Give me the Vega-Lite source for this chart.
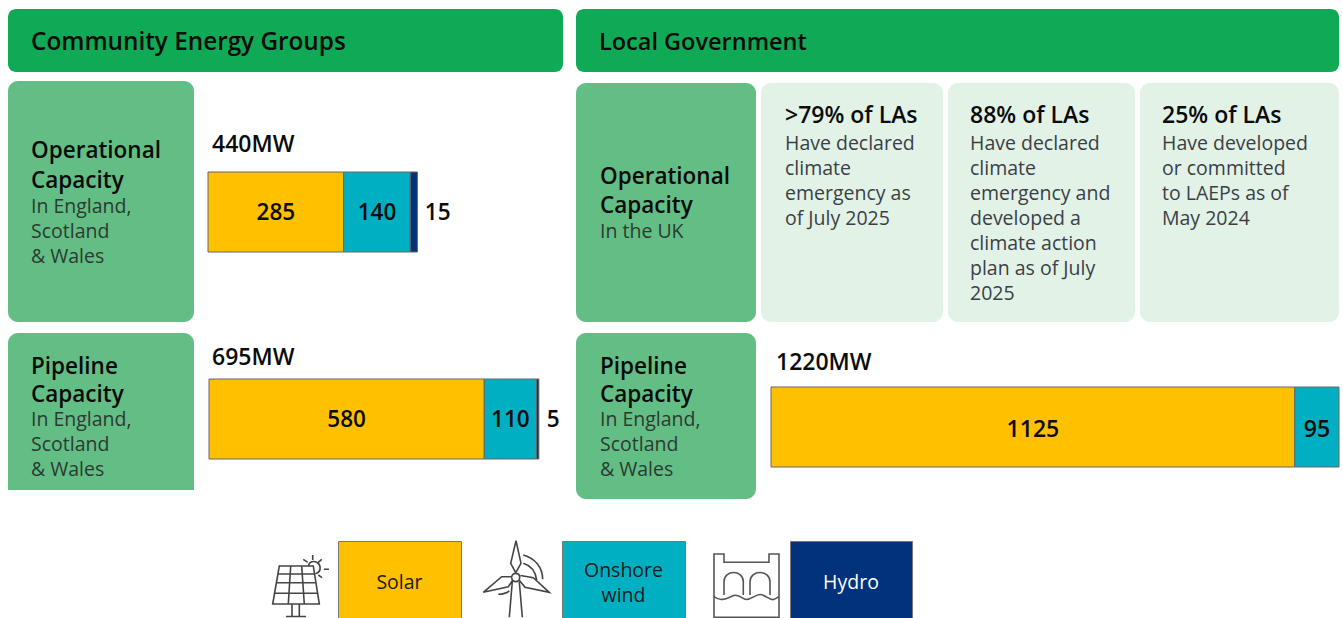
{
"$schema":"https://vega.github.io/schema/vega-lite/v6.json",
"padding":{"left":8,"top":9,"right":0,"bottom":0},
"background":"white",
"spacing":38,
"config":{"view":{"stroke":null},"font":"Open Sans","text":{"font":"Open Sans"}},
"vconcat":[
{"spacing":12,"hconcat":[
 {"spacing":11,"vconcat":[
 {"spacing":9,"vconcat":[
  {"width":555,"height":63,"view":{"fill":"#10A955","cornerRadius":8,"stroke":null},
   "data":{"values":[{"label":"Community Energy Groups"}]},
   "mark":{"type":"text","x":23,"y":41,"align":"left","baseline":"alphabetic","fontSize":24.3,"fontWeight":600,"fill":"#0b0b0b"},
   "encoding":{"text":{"field":"label"}}},
  {"spacing":13,"hconcat":[
   {"width":186,"height":241,"view":{"fill":"#63BE85","cornerRadius":10,"stroke":null},
    "layer":[
     {"data":{"values":[{"label":"Operational\nCapacity"}]},"mark":{"type":"text","lineBreak":"\n","lineHeight":30,"x":23,"y":77,"align":"left","baseline":"alphabetic","fontSize":22.5,"fontWeight":600,"fill":"#0b0b0b"},"encoding":{"text":{"field":"label"}}},
     {"data":{"values":[{"label":"In England,\nScotland\n& Wales"}]},"mark":{"type":"text","lineBreak":"\n","lineHeight":25,"x":23,"y":132,"align":"left","baseline":"alphabetic","fontSize":19.5,"fill":"#2b3a30"},"encoding":{"text":{"field":"label"}}}
    ]},
   {"spacing":0,"vconcat":[
    {"width":356,"height":90,"data":{"values":[{"label":"440MW"}]},
     "mark":{"type":"text","x":4,"y":71,"align":"left","baseline":"alphabetic","fontSize":23,"fontWeight":600,"fill":"#0b0b0b"},"encoding":{"text":{"field":"label"}}},
    {"width":356,"height":80,
     "data":{"values":[{"source":"Solar","rank":1,"mw":285},{"source":"Onshore wind","rank":2,"mw":140},{"source":"Hydro","rank":3,"mw":15}]},
     "layer":[
      {"mark":{"type":"bar","size":80,"stroke":"#666","strokeWidth":1},"encoding":{"x":{"field":"mw","type":"quantitative","stack":"zero","axis":null,"scale":{"domain":[0,748]}},"order":{"field":"rank"},"color":{"field":"source","type":"nominal","legend":null,"scale":{"domain":["Solar","Onshore wind","Hydro"],"range":["#FFC000","#00B0C2","#03327C"]}}}},
      {"mark":{"type":"text","fontSize":22.5,"fontWeight":600,"fill":"#0b0b0b","dy":1},"encoding":{"x":{"field":"mw","type":"quantitative","stack":"zero","bandPosition":0.5,"axis":null,"scale":{"domain":[0,748]}},"order":{"field":"rank"},"text":{"condition":{"test":"datum.mw>=50","field":"mw","type":"quantitative"},"value":""}}},
      {"mark":{"type":"text","fontSize":22.5,"fontWeight":600,"fill":"#0b0b0b","align":"left","dx":11,"dy":1},"encoding":{"x":{"field":"mw","type":"quantitative","stack":"zero","bandPosition":0.5,"axis":null,"scale":{"domain":[0,748]}},"order":{"field":"rank"},"text":{"condition":{"test":"datum.mw<50","field":"mw","type":"quantitative"},"value":""}}}
     ]}
   ]}
  ]}
 ]},
  {"spacing":14,"hconcat":[
   {"width":186,"height":157,
    "layer":[
     {"data":{"values":[{"label":"box"}]},"mark":{"type":"rect","fill":"#63BE85","cornerRadiusTopLeft":10,"cornerRadiusTopRight":10},"encoding":{}},
     {"data":{"values":[{"label":"Pipeline\nCapacity"}]},"mark":{"type":"text","lineBreak":"\n","lineHeight":28,"x":23,"y":41,"align":"left","baseline":"alphabetic","fontSize":22.5,"fontWeight":600,"fill":"#0b0b0b"},"encoding":{"text":{"field":"label"}}},
     {"data":{"values":[{"label":"In England,\nScotland\n& Wales"}]},"mark":{"type":"text","lineBreak":"\n","lineHeight":25,"x":23,"y":93,"align":"left","baseline":"alphabetic","fontSize":19.5,"fill":"#2b3a30"},"encoding":{"text":{"field":"label"}}}
    ]},
   {"spacing":0,"vconcat":[
    {"width":355,"height":45,"data":{"values":[{"label":"695MW"}]},
     "mark":{"type":"text","x":3,"y":32,"align":"left","baseline":"alphabetic","fontSize":23,"fontWeight":600,"fill":"#0b0b0b"},"encoding":{"text":{"field":"label"}}},
    {"width":355,"height":80,
     "data":{"values":[{"source":"Solar","rank":1,"mw":580},{"source":"Onshore wind","rank":2,"mw":110},{"source":"Hydro","rank":3,"mw":5}]},
     "layer":[
      {"mark":{"type":"bar","size":80,"stroke":"#666","strokeWidth":1},"encoding":{"x":{"field":"mw","type":"quantitative","stack":"zero","axis":null,"scale":{"domain":[0,748]}},"order":{"field":"rank"},"color":{"field":"source","type":"nominal","legend":null,"scale":{"domain":["Solar","Onshore wind","Hydro"],"range":["#FFC000","#00B0C2","#03327C"]}}}},
      {"mark":{"type":"text","fontSize":22.5,"fontWeight":600,"fill":"#0b0b0b","dy":1},"encoding":{"x":{"field":"mw","type":"quantitative","stack":"zero","bandPosition":0.5,"axis":null,"scale":{"domain":[0,748]}},"order":{"field":"rank"},"text":{"condition":{"test":"datum.mw>=50","field":"mw","type":"quantitative"},"value":""}}},
      {"mark":{"type":"text","fontSize":22.5,"fontWeight":600,"fill":"#0b0b0b","align":"left","dx":9,"dy":1},"encoding":{"x":{"field":"mw","type":"quantitative","stack":"zero","bandPosition":0.5,"axis":null,"scale":{"domain":[0,748]}},"order":{"field":"rank"},"text":{"condition":{"test":"datum.mw<50","field":"mw","type":"quantitative"},"value":""}}}
     ]}
   ]}
  ]}
 ]},
 {"spacing":11,"vconcat":[
  {"width":763,"height":63,"view":{"fill":"#10A955","cornerRadius":8,"stroke":null},
   "data":{"values":[{"label":"Local Government"}]},
   "mark":{"type":"text","x":23,"y":41,"align":"left","baseline":"alphabetic","fontSize":23.5,"fontWeight":600,"fill":"#0b0b0b"},
   "encoding":{"text":{"field":"label"}}},
  {"spacing":5,"hconcat":[
   {"width":180,"height":239,"view":{"fill":"#63BE85","cornerRadius":10,"stroke":null},
    "layer":[
     {"data":{"values":[{"label":"Operational\nCapacity"}]},"mark":{"type":"text","lineBreak":"\n","lineHeight":29,"x":24,"y":101,"align":"left","baseline":"alphabetic","fontSize":22.5,"fontWeight":600,"fill":"#0b0b0b"},"encoding":{"text":{"field":"label"}}},
     {"data":{"values":[{"label":"In the UK"}]},"mark":{"type":"text","x":24,"y":155,"align":"left","baseline":"alphabetic","fontSize":19.5,"fill":"#2b3a30"},"encoding":{"text":{"field":"label"}}}
    ]},
   {"width":182,"height":239,"view":{"fill":"#E2F2E7","cornerRadius":10,"stroke":null},
    "layer":[
     {"data":{"values":[{"label":">79% of LAs"}]},"mark":{"type":"text","x":24,"y":40,"align":"left","baseline":"alphabetic","fontSize":23,"fontWeight":600,"fill":"#0b0b0b"},"encoding":{"text":{"field":"label"}}},
     {"data":{"values":[{"label":"Have declared\nclimate\nemergency as\nof July 2025"}]},"mark":{"type":"text","lineBreak":"\n","lineHeight":25,"x":24,"y":67,"align":"left","baseline":"alphabetic","fontSize":19.5,"fill":"#3a3f45"},"encoding":{"text":{"field":"label"}}}
    ]},
   {"width":187,"height":239,"view":{"fill":"#E2F2E7","cornerRadius":10,"stroke":null},
    "layer":[
     {"data":{"values":[{"label":"88% of LAs"}]},"mark":{"type":"text","x":22,"y":40,"align":"left","baseline":"alphabetic","fontSize":23,"fontWeight":600,"fill":"#0b0b0b"},"encoding":{"text":{"field":"label"}}},
     {"data":{"values":[{"label":"Have declared\nclimate\nemergency and\ndeveloped a\nclimate action\nplan as of July\n2025"}]},"mark":{"type":"text","lineBreak":"\n","lineHeight":25,"x":22,"y":67,"align":"left","baseline":"alphabetic","fontSize":19.5,"fill":"#3a3f45"},"encoding":{"text":{"field":"label"}}}
    ]},
   {"width":199,"height":239,"view":{"fill":"#E2F2E7","cornerRadius":10,"stroke":null},
    "layer":[
     {"data":{"values":[{"label":"25% of LAs"}]},"mark":{"type":"text","x":22,"y":40,"align":"left","baseline":"alphabetic","fontSize":23,"fontWeight":600,"fill":"#0b0b0b"},"encoding":{"text":{"field":"label"}}},
     {"data":{"values":[{"label":"Have developed\nor committed\nto LAEPs as of\nMay 2024"}]},"mark":{"type":"text","lineBreak":"\n","lineHeight":25,"x":22,"y":67,"align":"left","baseline":"alphabetic","fontSize":19.5,"fill":"#3a3f45"},"encoding":{"text":{"field":"label"}}}
    ]}
  ]},
  {"spacing":14,"hconcat":[
   {"width":180,"height":166,"view":{"fill":"#63BE85","cornerRadius":10,"stroke":null},
    "layer":[
     {"data":{"values":[{"label":"Pipeline\nCapacity"}]},"mark":{"type":"text","lineBreak":"\n","lineHeight":28,"x":24,"y":41,"align":"left","baseline":"alphabetic","fontSize":22.5,"fontWeight":600,"fill":"#0b0b0b"},"encoding":{"text":{"field":"label"}}},
     {"data":{"values":[{"label":"In England,\nScotland\n& Wales"}]},"mark":{"type":"text","lineBreak":"\n","lineHeight":25,"x":24,"y":93,"align":"left","baseline":"alphabetic","fontSize":19.5,"fill":"#2b3a30"},"encoding":{"text":{"field":"label"}}}
    ]},
   {"spacing":0,"vconcat":[
    {"width":568,"height":53,"data":{"values":[{"label":"1220MW"}]},
     "mark":{"type":"text","x":5,"y":37,"align":"left","baseline":"alphabetic","fontSize":23,"fontWeight":600,"fill":"#0b0b0b"},"encoding":{"text":{"field":"label"}}},
    {"width":568,"height":80,
     "data":{"values":[{"source":"Solar","rank":1,"mw":1125},{"source":"Onshore wind","rank":2,"mw":95}]},
     "layer":[
      {"mark":{"type":"bar","size":80,"stroke":"#666","strokeWidth":1},"encoding":{"x":{"field":"mw","type":"quantitative","stack":"zero","axis":null,"scale":{"domain":[0,1220]}},"order":{"field":"rank"},"color":{"field":"source","type":"nominal","legend":null,"scale":{"domain":["Solar","Onshore wind","Hydro"],"range":["#FFC000","#00B0C2","#03327C"]}}}},
      {"mark":{"type":"text","fontSize":23,"fontWeight":600,"fill":"#0b0b0b","dy":3},"encoding":{"x":{"field":"mw","type":"quantitative","stack":"zero","bandPosition":0.5,"axis":null,"scale":{"domain":[0,1220]}},"order":{"field":"rank"},"text":{"field":"mw","type":"quantitative"}}}
     ]}
   ]}
  ]}
 ]}
]},
{"spacing":8,"bounds":"flush","hconcat":[
 {"width":254,"height":77,"data":{"values":[{"label":""}]},"mark":{"type":"text"},"encoding":{"text":{"field":"label"}}},
 {"width":60,"height":77,"data":{"values":[{"label":"Solar icon"}]},
  "mark":{"type":"point","size":4,"filled":false,"opacity":1,"stroke":"#444","strokeWidth":1.6,
   "shape":"M-20.7,-13.5 L13.3,-13.5 L19.3,24.5 L-27.3,24.5 Z M-22,-5.5 L15,-5.5 M-23.4,3.2 L16.4,3.2 M-25.5,13.8 L18,13.8 M-9.3,-13.5 L-11.7,24.5 M1.7,-13.5 L4.3,24.5 M-8,24.5 L-8,37 M-0.7,24.5 L-0.7,37 M-14,37 L6,37 M8.5,-13.5 C9,-18 14,-19 17,-17 C21,-15 21,-9 18,-7 C17,-6 16,-6 15.5,-6 M3.3,-20.2 L7.7,-17.2 M12.7,-24.5 L12.7,-19.5 M21.7,-20.2 L18.3,-17.2 M24,-10.2 L29,-10.2 M18.3,-4.5 L22,-1.8"},
  "encoding":{}},
 {"width":123,"height":77,"view":{"fill":"#FFC000","stroke":"#777"},"data":{"values":[{"label":"Solar"}]},
  "mark":{"type":"text","fontSize":19.5,"fill":"#1a1a1a","dy":3},"encoding":{"text":{"field":"label"}}},
 {"width":85,"height":77,"data":{"values":[{"label":"Wind icon"}]},
  "mark":{"type":"point","size":4,"filled":false,"opacity":1,"stroke":"#444","strokeWidth":1.6,
   "shape":"M0.2,-2.2 C0.2,-7.5 8.2,-7.5 8.2,-2 C8.2,3.5 0.2,3.5 0.2,-2 M4.5,-38.8 L9.5,-16.2 L4.2,-6.8 L-0.8,-16.2 Z M9,-4 L21.8,-1.8 L37.8,12.8 L13.5,7.8 L8,1 M0.2,-2.8 L-9.8,-2.8 L-28.2,12.8 L-3.2,7.2 L1,1 M0.8,2.2 L-2.2,37.8 M7.8,2.2 L10.8,37.8 M11.8,-24.5 C24,-21 31,-12 31.2,-0.2 M11.8,-16.2 C19,-14 24,-8 25.2,0.5 M-13.2,14.8 Q-7,15 -2.2,11.5"},
  "encoding":{}},
 {"width":123,"height":77,"view":{"fill":"#00B0C2","stroke":"#777"},"data":{"values":[{"label":"Onshore\nwind"}]},
  "mark":{"type":"text","lineBreak":"\n","lineHeight":25,"fontSize":19.5,"fill":"#1a1a1a","dy":-9},"encoding":{"text":{"field":"label"}}},
 {"width":89,"height":77,"data":{"values":[{"label":"Hydro icon"}]},
  "mark":{"type":"point","size":4,"filled":false,"opacity":1,"stroke":"#555","strokeWidth":1.6,
   "shape":"M-23.5,-25.5 L-13.5,-25.5 L-13.5,-17.2 L31.5,-17.2 L31.5,-25.5 L41.5,-25.5 L41.5,37.8 L-23.5,37.8 Z M-13.5,15.5 L-13.5,2.2 C-13.5,-10 5.8,-10 5.8,2.2 L5.8,15.5 M12.5,15.5 L12.5,2.2 C12.5,-10 32.5,-10 32.5,2.2 L32.5,15.5 M-23.5,17 C-18,22 -12,20 -4,16 C1,14 5,20 9,20 C14,20 18,15 22.5,15 C28,15 32,21 36,20 C38,19.5 40,18 41.5,17"},
  "encoding":{}},
 {"width":122,"height":77,"view":{"fill":"#03327C","stroke":"#777"},"data":{"values":[{"label":"Hydro"}]},
  "mark":{"type":"text","fontSize":19.5,"fill":"#ffffff","dy":3},"encoding":{"text":{"field":"label"}}}
]}
]}
